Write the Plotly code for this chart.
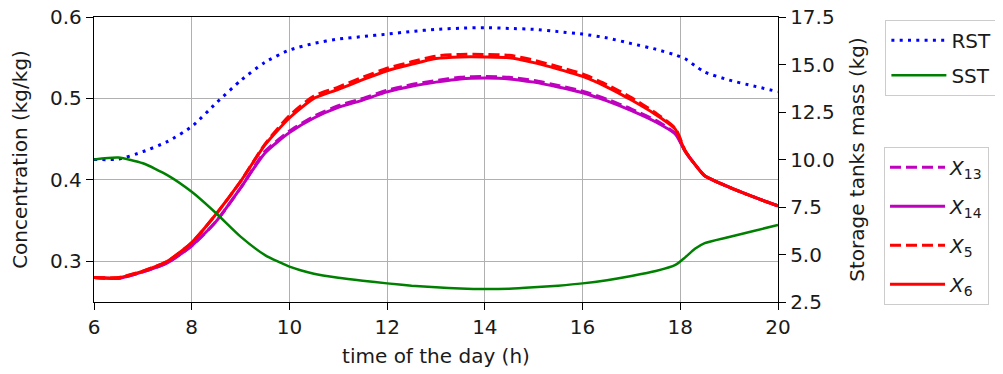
import plotly.graph_objects as go

# ---- data ----
hours = [6, 6.5, 7, 7.5, 8, 8.5, 9, 9.5, 10, 10.5, 11, 11.5, 12, 12.5, 13, 13.5,
         14, 14.5, 15, 15.5, 16, 16.5, 17, 17.5, 17.9, 18.1, 18.3, 18.5, 19, 19.5, 20]

rst_mass = [10.0, 10.02, 10.41, 10.94, 11.73, 12.97, 14.15, 15.12, 15.76, 16.11, 16.34, 16.47,
            16.6, 16.74, 16.85, 16.91, 16.94, 16.9, 16.85, 16.73, 16.6, 16.4, 16.1, 15.8,
            15.5, 15.3, 14.94, 14.6, 14.18, 13.87, 13.57]

sst_mass = [10.0, 10.1, 9.8, 9.18, 8.3, 7.17, 5.94, 4.97, 4.36, 3.99, 3.78, 3.62,
            3.48, 3.36, 3.28, 3.21, 3.18, 3.2, 3.27, 3.36, 3.48, 3.65, 3.87, 4.13,
            4.45, 4.85, 5.3, 5.6, 5.92, 6.24, 6.55]

x13 = [0.280, 0.279, 0.287, 0.298, 0.319, 0.349, 0.390, 0.435, 0.460, 0.478, 0.491, 0.500,
       0.510, 0.517, 0.522, 0.526, 0.527, 0.526, 0.522, 0.516, 0.509, 0.499, 0.487, 0.473,
       0.457, 0.435, 0.419, 0.405, 0.391, 0.379, 0.368]

x14 = [0.280, 0.279, 0.287, 0.298, 0.319, 0.349, 0.390, 0.433, 0.458, 0.476, 0.489, 0.498,
       0.508, 0.515, 0.520, 0.524, 0.525, 0.524, 0.520, 0.514, 0.507, 0.497, 0.485, 0.471,
       0.456, 0.435, 0.419, 0.405, 0.391, 0.379, 0.368]

x5 = [0.280, 0.280, 0.288, 0.300, 0.323, 0.358, 0.398, 0.444, 0.479, 0.503, 0.514, 0.526,
      0.537, 0.545, 0.552, 0.554, 0.554, 0.553, 0.547, 0.539, 0.530, 0.517, 0.501, 0.482,
      0.463, 0.436, 0.419, 0.405, 0.391, 0.379, 0.368]

x6 = [0.280, 0.280, 0.288, 0.300, 0.323, 0.358, 0.398, 0.443, 0.476, 0.500, 0.511, 0.523,
      0.534, 0.542, 0.549, 0.551, 0.551, 0.550, 0.544, 0.536, 0.527, 0.514, 0.498, 0.480,
      0.462, 0.435, 0.419, 0.405, 0.391, 0.379, 0.368]

x_ticks = [6, 8, 10, 12, 14, 16, 18, 20]
conc_ticks = [0.3, 0.4, 0.5, 0.6]
mass_ticks = [2.5, 5.0, 7.5, 10.0, 12.5, 15.0, 17.5]

FONT = "DejaVu Sans"
FS = 20
TXT = "#1a1a1a"
LW = 3
SMOOTH = 0.6

fig = go.Figure()

# left-axis concentration traces (second legend)
for name, vals, color, dash, grp in [
        ("<i>X</i><sub>13</sub>", x13, "#bf00bf", "11px,5px", "g13"),
        ("<i>X</i><sub>14</sub>", x14, "#bf00bf", "solid", "g14"),
        ("<i>X</i><sub>5</sub>", x5, "#ff0000", "11px,5px", "g5"),
        ("<i>X</i><sub>6</sub>", x6, "#ff0000", "solid", "g6")]:
    fig.add_trace(go.Scatter(x=hours, y=vals, name=name, mode="lines", legendgroup=grp,
                             line=dict(color=color, width=LW, dash=dash,
                                       shape="spline", smoothing=SMOOTH),
                             legend="legend2"))

# right-axis storage tank traces (first legend)
fig.add_trace(go.Scatter(x=hours, y=rst_mass, name="RST", mode="lines", yaxis="y2",
                         legendgroup="rst",
                         line=dict(color="#0000ff", width=LW, dash="3px,5.3px",
                                   shape="spline", smoothing=SMOOTH),
                         legend="legend"))
fig.add_trace(go.Scatter(x=hours, y=sst_mass, name="SST", mode="lines", yaxis="y2",
                         legendgroup="sst",
                         line=dict(color="#008000", width=2.5,
                                   shape="spline", smoothing=SMOOTH),
                         legend="legend"))

axis_common = dict(showline=True, linecolor="black", linewidth=1.3,
                   ticks="outside", ticklen=7, tickwidth=1.3, tickcolor="black",
                   tickfont=dict(family=FONT, size=FS, color=TXT),
                   ticklabeloverflow="allow",
                   zeroline=False, automargin=False)

fig.update_layout(
    width=1003, height=374,
    template="none",
    paper_bgcolor="white", plot_bgcolor="white",
    margin=dict(l=86, r=233, t=9, b=80),
    font=dict(family=FONT, size=FS, color=TXT),
    xaxis=dict(range=[6, 20], tickvals=x_ticks, ticktext=[str(v) for v in x_ticks],
               showgrid=True, gridcolor="#b0b0b0", gridwidth=1, mirror=True,
               title=dict(text="time of the day (h)", standoff=10,
                          font=dict(family=FONT, size=FS, color=TXT)),
               **axis_common),
    yaxis=dict(range=[0.25, 0.6], tickvals=conc_ticks, tickformat=".1f",
               showgrid=True, gridcolor="#b0b0b0", gridwidth=1, mirror=True,
               title=dict(text="Concentration (kg/kg)", standoff=17,
                          font=dict(family=FONT, size=FS, color=TXT)),
               **axis_common),
    yaxis2=dict(range=[2.5, 17.5], tickvals=mass_ticks, tickformat=".1f",
                overlaying="y", side="right", showgrid=False,
                title=dict(text="Storage tanks mass (kg)", standoff=16,
                           font=dict(family=FONT, size=FS, color=TXT)),
                **axis_common),
    legend=dict(x=1.157, y=0.99, xanchor="left", yanchor="top",
                bordercolor="#cccccc", borderwidth=1, bgcolor="rgba(255,255,255,0.8)",
                tracegroupgap=6, itemwidth=55,
                font=dict(family=FONT, size=FS, color=TXT)),
    legend2=dict(x=1.155, y=0.545, xanchor="left", yanchor="top",
                 bordercolor="#cccccc", borderwidth=1, bgcolor="rgba(255,255,255,0.8)",
                 tracegroupgap=10, itemwidth=55,
                 font=dict(family=FONT, size=FS, color=TXT)),
    showlegend=True,
)

fig.write_html("out.html", config={"displayModeBar": False})
